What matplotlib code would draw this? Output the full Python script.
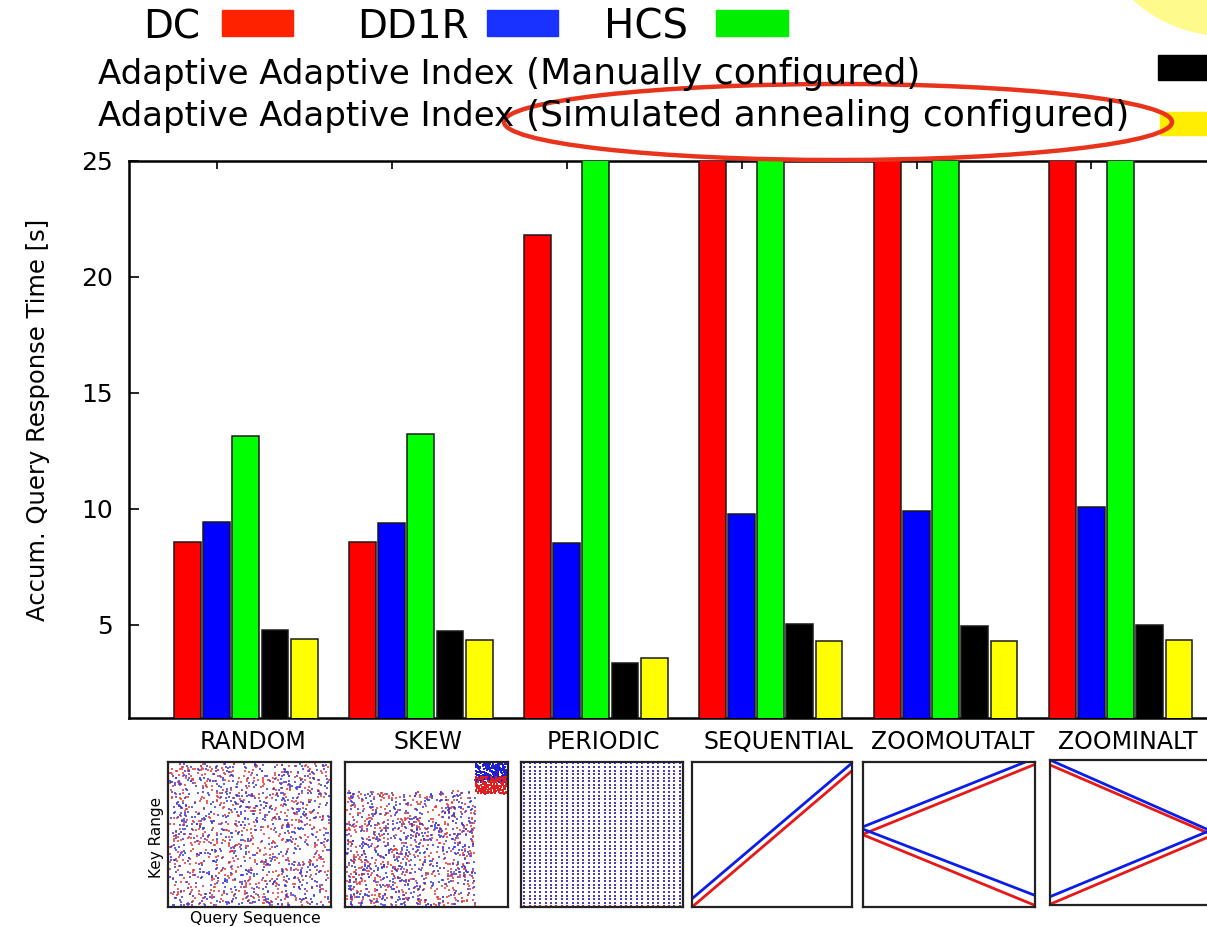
import matplotlib.pyplot as plt
import matplotlib.patches as patches
import numpy as np

# bar data (values above 25 are cut off by the axis, as in the original)
categories = ['RANDOM', 'SKEW', 'PERIODIC', 'SEQUENTIAL', 'ZOOMOUTALT', 'ZOOMINALT']
dc = [8.59, 8.59, 21.83, 30.0, 30.0, 30.0]
dd1r = [9.43, 9.38, 8.54, 9.80, 9.91, 10.10]
hcs = [13.15, 13.23, 30.0, 30.0, 30.0, 30.0]
aai_manual = [4.80, 4.75, 3.35, 5.02, 4.96, 5.00]
aai_sa = [4.38, 4.37, 3.57, 4.30, 4.32, 4.35]

series = [dc, dd1r, hcs, aai_manual, aai_sa]
bar_colors = ['#ff0000', '#0000ff', '#00ff00', '#000000', '#ffff00']

# workload sketch lines (fractions of each small box): (x0, y0, x1, y1, color)
seq_lines = [(0, 0.057, 1, 0.993, 'b'), (0.008, 0.007, 1, 0.94, 'r')]
zoomout_lines = [(0, 0.553, 0.944, 1.0, 'b'), (0, 0.502, 1, 0.984, 'r'),
                 (0, 0.537, 1, 0.080, 'b'), (0, 0.498, 1, 0.011, 'r')]
zoomin_lines = [(0, 1.0, 0.98, 0.517, 'b'), (0, 0.966, 0.98, 0.494, 'r'),
                (0, 0.057, 0.98, 0.51, 'b'), (0, 0.005, 0.98, 0.47, 'r')]

W, H = 1207, 927
fig = plt.figure(figsize=(W / 100, H / 100), dpi=100)

def px_axes(left, top, width, height, **kw):
    return fig.add_axes([left / W, (H - top - height) / H, width / W, height / H], **kw)

# ---- main bar chart ----
ax = px_axes(129.2, 161, 1108.1, 556.7)
ngroup = len(categories)
for k, (vals, col) in enumerate(zip(series, bar_colors)):
    xs = [g * 6 + k for g in range(ngroup)]
    ax.bar(xs, vals, width=0.92, color=col, edgecolor='#1a1a1a', linewidth=1.1, zorder=3)

ax.set_xlim(-2, 36)
ax.set_ylim(1, 25)
ax.set_yticks([5, 10, 15, 20, 25])
ax.tick_params(axis='y', direction='in', length=7, width=1.2, labelsize=18, pad=12)
ax.set_xticks([g * 6 + 1 for g in range(ngroup)])
ax.tick_params(axis='x', direction='in', length=6, width=1.2, top=True, bottom=False,
               labelbottom=False)
for s in ax.spines.values():
    s.set_linewidth(1.8)
for g, name in enumerate(categories):
    ax.text(g * 6 + 2.25, 1 - 1.35, name, ha='center', va='baseline', fontsize=17,
            clip_on=False)

# ---- workload sketches ----
boxes = [(168, 762, 163, 145), (345, 762, 163, 145), (521, 762, 162, 145),
         (692, 762, 160, 145), (863, 762, 172, 145), (1050, 760, 162, 145)]
thumbs = []
for (l, t, w, h) in boxes:
    a = px_axes(l, t, w, h)
    a.set_xlim(0, 1)
    a.set_ylim(0, 1)
    a.set_xticks([])
    a.set_yticks([])
    for s in a.spines.values():
        s.set_linewidth(1.6)
        s.set_color('#222222')
    thumbs.append(a)

# texture for the random-looking workloads (only a sketch, not data)
rng = np.random.default_rng(3)
for col in ['#e83a3a', '#3a3ae0']:
    thumbs[0].scatter(rng.uniform(0.01, 0.99, 750), rng.uniform(0.01, 0.99, 750),
                      s=3.5, marker='s', color=col, linewidths=0, alpha=0.8)
    thumbs[1].scatter(rng.uniform(0.01, 0.8, 620), rng.uniform(0.01, 0.8, 620),
                      s=3.5, marker='s', color=col, linewidths=0, alpha=0.8)
thumbs[1].scatter(rng.uniform(0.8, 0.99, 240), rng.uniform(0.86, 0.99, 240),
                  s=3.5, marker='s', color='#2020d0', linewidths=0)
thumbs[1].scatter(rng.uniform(0.8, 0.99, 180), rng.uniform(0.78, 0.9, 180),
                  s=3.5, marker='s', color='#e02020', linewidths=0)

gx, gy = np.meshgrid(np.linspace(0.02, 0.98, 30), np.linspace(0.03, 0.99, 40))
thumbs[2].scatter(gx.ravel(), gy.ravel(), s=2.5, marker='s', color='#4a3cc0', linewidths=0)
thumbs[2].scatter(gx[0], np.full(30, 0.01), s=2.5, marker='s', color='#e03030', linewidths=0)

for a, lines in zip(thumbs[3:], [seq_lines, zoomout_lines, zoomin_lines]):
    for x0, y0, x1, y1, c in lines:
        a.plot([x0, x1], [y0, y1], color={'b': '#0a1ee8', 'r': '#e81818'}[c], lw=2.0)

# ---- overlay: legend, labels, annotations ----
ov = fig.add_axes([0, 0, 1, 1], zorder=10)
ov.set_xlim(0, W)
ov.set_ylim(H, 0)
ov.axis('off')
ov.patch.set_alpha(0)

ov.add_patch(patches.Circle((1225, -100), 136, facecolor='#fffa8c', edgecolor='none', zorder=0))

ov.text(143, 38, 'DC', fontsize=28, va='baseline')
ov.text(357, 38, 'DD1R', fontsize=28, va='baseline')
ov.text(604, 38, 'HCS', fontsize=29, va='baseline')
ov.add_patch(patches.Rectangle((222, 10), 71, 26, color='#ff2200'))
ov.add_patch(patches.Rectangle((487, 10), 71, 26, color='#1a32ff'))
ov.add_patch(patches.Rectangle((716, 10), 72, 26, color='#00ee00'))

ov.text(98, 84, 'Adaptive Adaptive Index', fontsize=24.5, va='baseline')
ov.text(526, 84, '(Manually configured)', fontsize=26, va='baseline')
ov.text(98, 126, 'Adaptive Adaptive Index', fontsize=24.5, va='baseline')
ov.text(526, 126, '(Simulated annealing configured)', fontsize=26, va='baseline')
ov.add_patch(patches.Rectangle((1158, 55), 60, 25, color='#000000'))
ov.add_patch(patches.Rectangle((1160, 112), 60, 23, color='#ffee00'))

ov.add_patch(patches.Ellipse((838, 122), 668, 76, fill=False, edgecolor='#e8341c', lw=3.2))

ov.text(38, 420, 'Accum. Query Response Time [s]', rotation=90, fontsize=17.5,
        ha='center', va='center')
ov.text(157, 837, 'Key Range', rotation=90, fontsize=11, ha='center', va='center')
ov.text(255, 918, 'Query Sequence', fontsize=11.3, ha='center', va='center')

fig.savefig('out.png', dpi=100)
